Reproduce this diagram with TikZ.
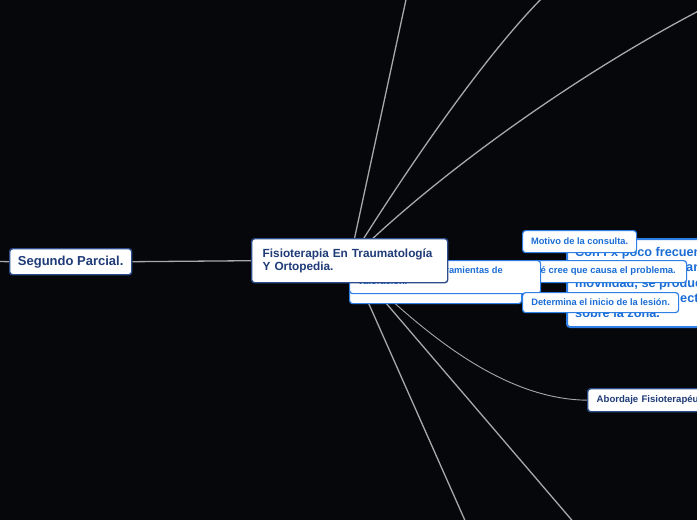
\documentclass[tikz,border=0pt]{standalone}
\usepackage{fontspec}
\setmainfont{Liberation Sans}
\definecolor{bgc}{HTML}{05070A}
\definecolor{connc}{HTML}{A8A8A8}
\definecolor{navy}{HTML}{1F3B78}
\definecolor{navyb}{HTML}{2C4C8C}
\definecolor{blu}{HTML}{1A6DD6}
\definecolor{blub}{HTML}{2F80E6}
\pgfdeclarelayer{back}
\pgfsetlayers{back,main}
\begin{document}
\begin{tikzpicture}[x=1pt,y=-1pt,
  box/.style={draw, fill=white, rounded corners=3pt, inner sep=0pt, anchor=north west},
  navybox/.style={box, draw=navyb, line width=1.4pt, text=navy},
  bluebox/.style={box, draw=blub, line width=1.2pt, text=blu, font=\bfseries\fontsize{9.3}{11}\selectfont},
  emptybox/.style={box, draw=blub, line width=1.2pt},
  smalltxt/.style={inner sep=0pt, anchor=base west, text=blu, font=\bfseries\fontsize{9.3}{11}\selectfont},
  bigtxt/.style={inner sep=0pt, anchor=base west, text=blu, font=\bfseries\fontsize{12.7}{15}\selectfont},
  connector/.style={draw=connc, line width=1.3pt},
  thinconn/.style={draw=connc, line width=0.9pt}]
\useasboundingbox (0,0) rectangle (697,520);
\clip (0,0) rectangle (697,520);
\begin{pgfonlayer}{back}
\fill[bgc] (0,0) rectangle (697,520);
\end{pgfonlayer}

% big box with text (bottom-most)
\node[box, draw=blub, line width=2pt, minimum width=160pt, minimum height=88pt] (big) at (566,238) {};
\node[bigtxt] (bl1) at (575,256) {Con Fx poco frecuentes};
\node[bigtxt] (bl2) at (686,271) {an};
\node[bigtxt] (bl3) at (575,287) {movilidad, se produce};
\node[bigtxt] (bl4) at (680,302) {ect};
\node[bigtxt] (bl5) at (575,317) {sobre la zona.};

% lower hidden box
\node[emptybox, minimum width=172pt, minimum height=41pt] (low) at (349,262) {};
% cree box
\node[emptybox, minimum width=164pt, minimum height=22pt] (cree) at (522,260) {};
\node[smalltxt, font=\bfseries\fontsize{9.5}{11}\selectfont] (creetxt) at (540.5,273) {\llap{Qu}é cree que causa el problema.};
% herramientas box
\node[emptybox, minimum width=191pt, minimum height=33pt] (her) at (349,260) {};
\node[smalltxt, anchor=base east] (her1) at (503,273) {Herramientas de};
\node[smalltxt] (her2) at (358,284) {valoración.};

% central topic
\node[navybox, minimum width=196pt, minimum height=44pt, text width=174pt, align=left,
  font=\bfseries\fontsize{11.8}{13.5}\selectfont] (fis) at (251,238) {Fisioterapia En Traumatología\\Y Ortopedia.};

\node[bluebox, minimum width=114pt, minimum height=22pt] (mot) at (522,230) {Motivo de la consulta.};
\node[bluebox, minimum width=156pt, minimum height=20pt] (det) at (522,292) {Determina el inicio de la lesión.};

\node[navybox, minimum width=122pt, minimum height=26pt,
  font=\bfseries\fontsize{13}{15}\selectfont] (seg) at (9,248) {Segundo Parcial.};

\node[navybox, minimum width=140pt, minimum height=23pt, text width=122pt, align=left,
  font=\bfseries\fontsize{9.6}{11}\selectfont] (abo) at (587,388) {Abordaje Fisioterapéutico};

% connector free ends
\coordinate (lft) at (-20,261);
\coordinate (t1) at (407,-5);
\coordinate (t2) at (545,-5);
\coordinate (t3) at (720,0);
\coordinate (d1) at (467,525);
\coordinate (d2) at (576,525);

\begin{pgfonlayer}{back}
\draw[connector] (lft) -- (seg.west);
\draw[connector] (seg.east) -- (fis.west);
\draw[connector] (fis.center) -- (t1);
\draw[connector] (fis.center) .. controls (400,180) and (480,60) .. (t2);
\draw[connector] (fis.center) .. controls (430,180) and (580,70) .. (t3);
\draw[connector] (fis.center) -- (d1);
\draw[connector] (fis.center) -- (d2);
\draw[thinconn] (fis.center) .. controls (420,330) and (500,399) .. (abo.west);
\end{pgfonlayer}
\end{tikzpicture}
\end{document}
